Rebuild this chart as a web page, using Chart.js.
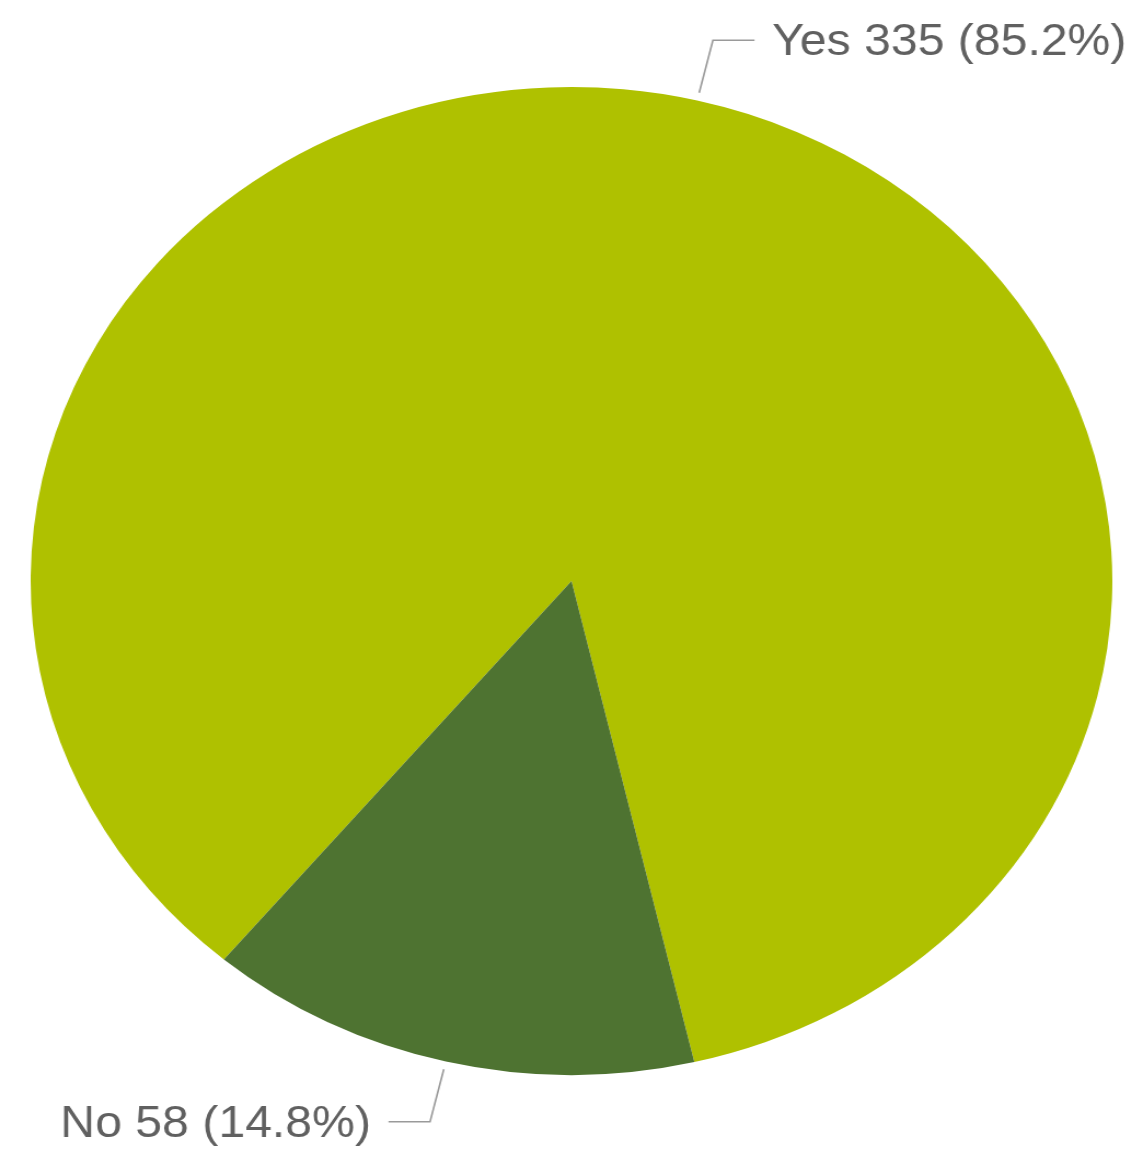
<!DOCTYPE html>
<html>
<head>
<meta charset="utf-8">
<script src="https://cdn.jsdelivr.net/npm/chart.js@4.4.1/dist/chart.umd.min.js"></script>
<style>
  html, body { margin: 0; padding: 0; background: #fff; overflow: hidden; }
  /* the source pie is slightly wider than tall, so the whole drawing is stretched */
  #wrap { position: absolute; left: 0; top: 0; width: 1044px; height: 1149px;
          transform: scaleX(1.0948); transform-origin: 0 0; }
</style>
</head>
<body>
<div id="wrap"><canvas id="pie"></canvas></div>
<script>
const categorias = ['Yes', 'No'];
const respostas = [335, 58];
const percentuais = ['85.2%', '14.8%'];
const cores = ['#afc100', '#4e7331'];

// linhas de chamada + rótulos
const rotulosPlugin = {
    id: 'rotulos',
    afterDatasetsDraw(chart) {
        const ctx = chart.ctx;
        const arcos = chart.getDatasetMeta(0).data;
        ctx.save();
        ctx.font = '44px "Liberation Sans", Arial, sans-serif';
        ctx.strokeStyle = '#9a9a9a';
        ctx.lineWidth = 1.6;
        ctx.fillStyle = '#606060';
        arcos.forEach((arco, i) => {
            const meio = (arco.startAngle + arco.endAngle) / 2;
            const r = arco.outerRadius;
            const x0 = arco.x + Math.cos(meio) * (r + 8);
            const y0 = arco.y + Math.sin(meio) * (r + 8);
            const x1 = arco.x + Math.cos(meio) * (r + 62);
            const y1 = arco.y + Math.sin(meio) * (r + 62);
            const dir = Math.cos(meio) >= 0 ? 1 : -1;
            const x2 = x1 + dir * 38;
            ctx.beginPath();
            ctx.moveTo(x0, y0);
            ctx.lineTo(x1, y1);
            ctx.lineTo(x2, y1);
            ctx.stroke();
            const texto = `${categorias[i]} ${respostas[i]} (${percentuais[i]})`;
            ctx.textAlign = dir > 0 ? 'left' : 'right';
            ctx.textBaseline = 'alphabetic';
            ctx.fillText(texto, x2 + dir * 16, y1 + 15);
        });
        ctx.restore();
    }
};

new Chart(document.getElementById('pie'), {
    type: 'pie',
    data: {
        labels: categorias,
        datasets: [{
            data: respostas,
            backgroundColor: cores,
            borderWidth: 0
        }]
    },
    options: {
        responsive: true,
        maintainAspectRatio: false,
        animation: false,
        rotation: 220,
        layout: { padding: { top: 87, bottom: 74, left: 0, right: 0 } },
        plugins: {
            legend: { display: false },
            tooltip: { enabled: false }
        }
    },
    plugins: [rotulosPlugin]
});
</script>
</body>
</html>
